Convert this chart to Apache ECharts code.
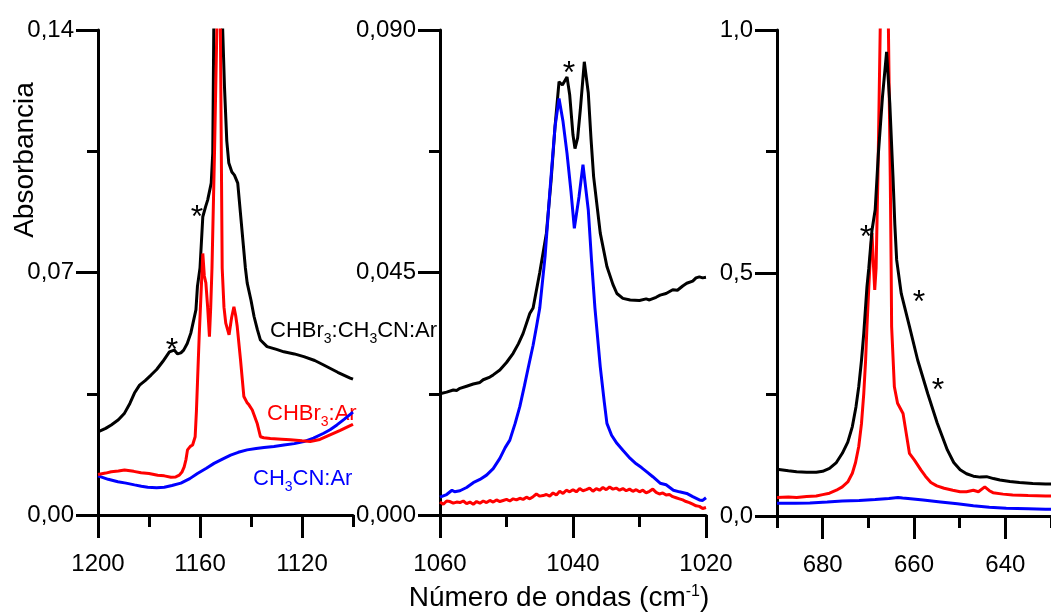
<!DOCTYPE html>
<html>
<head>
<meta charset="utf-8">
<script src="https://cdn.jsdelivr.net/npm/echarts@6/dist/echarts.min.js"></script>
<style>
  html, body { margin: 0; padding: 0; background: #fff; }
  #chart { width: 1051px; height: 613px; }
</style>
</head>
<body>
<div id="chart"></div>
<script>
// --- datos leídos del espectro ---
// panel 1 (1200-1100 cm-1)
const p1Black = [[1200,0.0240],[1199.3,0.0243],[1197,0.0250],[1194.8,0.0260],[1192,0.0275],[1189.6,0.0294],[1187.5,0.0322],[1185.7,0.0352],[1183.7,0.0375],[1181.5,0.0388],[1179.2,0.0404],[1177,0.0420],[1174.6,0.0443],[1172,0.0471],[1170.1,0.0476],[1168.8,0.0465],[1167.5,0.0468],[1166.4,0.0476],[1165,0.0495],[1163.6,0.0525],[1161.6,0.0592],[1161,0.0660],[1160,0.0713],[1159.5,0.0780],[1158.9,0.0861],[1157.8,0.0890],[1157,0.0909],[1155.6,0.0958],[1155,0.1045],[1154.6,0.14],[1153,0.2],[1151.1,0.14],[1150.4,0.1236],[1149.5,0.1080],[1148.7,0.1016],[1147.5,0.0990],[1146.5,0.0981],[1145.2,0.0958],[1143.9,0.0852],[1142.2,0.0713],[1141.5,0.0670],[1140,0.0620],[1138.8,0.0573],[1137.5,0.0535],[1136.3,0.0505],[1133.7,0.0486],[1130,0.0478],[1127.1,0.0471],[1123,0.0465],[1119.3,0.0457],[1115,0.0446],[1111.5,0.0433],[1106,0.0412],[1101.1,0.0395],[1100,0.0392]];
const p1Red = [[1200,0.0117],[1199.3,0.0118],[1197,0.0121],[1194.8,0.0125],[1192,0.0127],[1189.6,0.0130],[1186,0.0126],[1183.1,0.0122],[1180,0.0120],[1176.6,0.0115],[1174,0.0113],[1171.4,0.0109],[1169.5,0.0110],[1168.1,0.0115],[1167,0.0125],[1166.2,0.0139],[1165.5,0.0160],[1164.9,0.0188],[1163.8,0.0198],[1162.9,0.0202],[1161.9,0.0226],[1161.4,0.0300],[1161,0.0380],[1160.3,0.0520],[1159.7,0.0621],[1158.9,0.0755],[1158.3,0.0690],[1157.7,0.0670],[1157,0.0600],[1156.3,0.0515],[1155.8,0.0600],[1155.3,0.0713],[1154.3,0.105],[1153.4,0.14],[1152.7,0.25],[1152,0.14],[1151.3,0.0713],[1150.6,0.0600],[1149.9,0.0554],[1148.6,0.0520],[1147.6,0.0570],[1146.7,0.0601],[1146,0.0575],[1145.4,0.0544],[1144.1,0.0447],[1142.8,0.0342],[1141.6,0.0325],[1140.8,0.0318],[1140.2,0.0320],[1139.5,0.0303],[1137.6,0.0265],[1136.3,0.0226],[1135,0.0223],[1132.4,0.0221],[1128,0.0219],[1124.6,0.0217],[1120,0.0214],[1116.8,0.0212],[1113,0.0218],[1109,0.0231],[1105,0.0244],[1100.5,0.0260],[1100,0.0262]];
const p1Blue = [[1200,0.0113],[1199.3,0.0111],[1196,0.0103],[1192.2,0.0096],[1189,0.0092],[1185.7,0.0087],[1183,0.0083],[1180.5,0.0080],[1177,0.0079],[1174,0.0080],[1171,0.0085],[1167.5,0.0092],[1164,0.0105],[1161,0.0120],[1157.5,0.0135],[1154.5,0.0149],[1151,0.0162],[1148,0.0173],[1145,0.0181],[1141.5,0.0188],[1138,0.0192],[1134.9,0.0195],[1131,0.0198],[1127.1,0.0202],[1123,0.0206],[1119.3,0.0212],[1115.5,0.0222],[1111.5,0.0236],[1109,0.0246],[1106.3,0.0260],[1103.5,0.0276],[1100.5,0.0294],[1100,0.0297]];

// panel 2 (1060-1020 cm-1)
const p2Black = [[1060,0.0225],[1059.7,0.0226],[1059,0.0228],[1058,0.0232],[1057.5,0.0231],[1057,0.0235],[1056,0.0239],[1055,0.0243],[1054,0.0246],[1053.5,0.0251],[1052.5,0.0256],[1052,0.0260],[1051,0.0269],[1050,0.0283],[1049,0.0300],[1048.2,0.0318],[1047.5,0.0337],[1046.5,0.0374],[1046,0.0384],[1045,0.0450],[1044,0.0523],[1043.3,0.0620],[1042.7,0.0721],[1042.1,0.0804],[1041.6,0.0798],[1040.9,0.0813],[1040.5,0.0780],[1040,0.0705],[1039.7,0.0680],[1039.3,0.0700],[1038.9,0.0752],[1038.3,0.0841],[1037.7,0.0783],[1037.3,0.0700],[1036.9,0.0628],[1035.9,0.0523],[1034.9,0.0461],[1034,0.0428],[1033.4,0.0411],[1032.5,0.0402],[1031.4,0.0399],[1030,0.0398],[1029,0.0401],[1028.5,0.0399],[1027.5,0.0404],[1026.9,0.0408],[1026,0.0411],[1025,0.0418],[1024.3,0.0417],[1023.5,0.0425],[1022.9,0.0430],[1022,0.0434],[1021.5,0.0440],[1021,0.0442],[1020.5,0.0440],[1020,0.0441]];
const p2Red = [[1060,0.0024],[1059.5,0.0020],[1059,0.0026],[1058.5,0.0025],[1058,0.0022],[1057.5,0.0024],[1057,0.0023],[1056.5,0.0026],[1056,0.0021],[1055.5,0.0024],[1055,0.0020],[1054.5,0.0025],[1054,0.0022],[1053.5,0.0026],[1053,0.0023],[1052.5,0.0027],[1052,0.0024],[1051.5,0.0028],[1051,0.0025],[1050.5,0.0027],[1050,0.0029],[1049.5,0.0026],[1049,0.0030],[1048.5,0.0028],[1048,0.0031],[1047.5,0.0029],[1047,0.0033],[1046.5,0.0030],[1046,0.0034],[1045.5,0.0039],[1045,0.0035],[1044.5,0.0036],[1044,0.0038],[1043.5,0.0035],[1043,0.0041],[1042.5,0.0037],[1042,0.0044],[1041.5,0.0040],[1041,0.0046],[1040.5,0.0043],[1040,0.0047],[1039.5,0.0043],[1039,0.0049],[1038.5,0.0045],[1038,0.0047],[1037.5,0.0050],[1037,0.0044],[1036.5,0.0049],[1036,0.0046],[1035.5,0.0051],[1035,0.0047],[1034.5,0.0052],[1034,0.0048],[1033.5,0.0050],[1033,0.0046],[1032.5,0.0049],[1032,0.0045],[1031.5,0.0048],[1031,0.0044],[1030.5,0.0047],[1030,0.0043],[1029.5,0.0046],[1029,0.0041],[1028.5,0.0044],[1028,0.0048],[1027.5,0.0042],[1027,0.0039],[1026.5,0.0041],[1026,0.0037],[1025.5,0.0038],[1025,0.0034],[1024.5,0.0032],[1024,0.0030],[1023.5,0.0028],[1023,0.0025],[1022.5,0.0023],[1022,0.0020],[1021.5,0.0017],[1021,0.0016],[1020.5,0.0012],[1020,0.0014]];
const p2Blue = [[1060,0.0033],[1059.7,0.0034],[1059,0.0038],[1058.2,0.0046],[1057.8,0.0043],[1057.5,0.0041],[1057,0.0045],[1056,0.0051],[1055,0.0060],[1054,0.0066],[1053,0.0074],[1052,0.0086],[1051,0.0105],[1050.2,0.0125],[1049.5,0.0139],[1048.7,0.0170],[1048,0.0201],[1047.3,0.0240],[1046.7,0.0275],[1046,0.0315],[1045.5,0.0349],[1045,0.0384],[1044.2,0.0480],[1043.5,0.0597],[1042.7,0.0721],[1042.1,0.0773],[1041.5,0.0730],[1040.9,0.0671],[1040.3,0.0600],[1039.8,0.0532],[1039.1,0.0590],[1038.5,0.0650],[1037.7,0.0566],[1037.2,0.0470],[1036.7,0.0384],[1035.9,0.0275],[1035.3,0.0210],[1034.9,0.0170],[1034.2,0.0148],[1033.4,0.0133],[1032.5,0.0120],[1031.4,0.0105],[1030.5,0.0095],[1029.7,0.0088],[1028.9,0.0080],[1028,0.0071],[1026.9,0.0059],[1026,0.0056],[1024.9,0.0046],[1024,0.0043],[1022.9,0.0040],[1022,0.0034],[1021,0.0028],[1020.5,0.0027],[1020,0.0032]];

// panel 3 (690-630 cm-1)
const p3Black = [[690,0.096],[689.6,0.096],[687.5,0.093],[685.7,0.091],[683.5,0.090],[681.4,0.090],[680,0.092],[678.5,0.098],[677,0.110],[675.7,0.129],[674.5,0.152],[673.5,0.184],[672.7,0.225],[672.1,0.266],[671.5,0.320],[671,0.376],[670.3,0.472],[669.9,0.510],[669.2,0.588],[668.5,0.630],[667.8,0.746],[666.9,0.863],[666,0.955],[665.3,0.849],[664.6,0.698],[664.2,0.600],[663.8,0.527],[662.8,0.458],[661,0.390],[659.2,0.321],[657,0.252],[654.9,0.191],[652.7,0.136],[651.3,0.110],[649.9,0.095],[648.5,0.087],[647,0.082],[645.5,0.080],[644.1,0.081],[642.6,0.077],[641.2,0.074],[639,0.071],[636.9,0.069],[634,0.067],[631.2,0.066],[630,0.066]];
const p3Red = [[690,0.038],[689.6,0.038],[687.5,0.039],[685.7,0.038],[683.5,0.040],[681.4,0.041],[680,0.044],[678.5,0.047],[677,0.053],[675.7,0.060],[674.5,0.070],[673.5,0.088],[672.8,0.110],[672.1,0.143],[671.5,0.190],[671,0.252],[670.6,0.320],[670.3,0.390],[669.9,0.470],[669.6,0.527],[669.2,0.582],[668.9,0.520],[668.6,0.465],[668.3,0.510],[667.9,0.700],[667.4,1.0],[666.5,1.6],[665.6,1.0],[665.2,0.700],[665.0,0.510],[664.9,0.390],[664.3,0.266],[663.6,0.232],[662.4,0.211],[661.7,0.170],[661,0.129],[659.9,0.115],[658.5,0.095],[657.5,0.082],[656.3,0.069],[655,0.062],[653.4,0.057],[651.5,0.053],[649.9,0.050],[648.5,0.050],[647,0.053],[645.9,0.050],[644.5,0.060],[643.5,0.052],[642.7,0.048],[640.5,0.045],[638.4,0.043],[635,0.042],[631.2,0.041],[630,0.041]];
const p3Blue = [[690,0.026],[689.6,0.026],[686,0.026],[682.8,0.027],[679,0.029],[675.7,0.031],[672,0.032],[668.5,0.034],[665.5,0.036],[663.5,0.038],[662.5,0.037],[661.3,0.036],[658,0.033],[654.2,0.029],[650.5,0.025],[647,0.021],[643.5,0.018],[639.8,0.016],[635,0.015],[631.2,0.014],[630,0.014]];

// ticks
const p1XTicks = [1200, 1160, 1120], p1XMinor = [1180, 1140, 1100];
const p2XTicks = [1060, 1040, 1020], p2XMinor = [1050, 1030];
const p3XTicks = [680, 660, 640], p3XMinor = [690, 670, 650, 630];
const p1YTicks = [0, 0.07, 0.14], p1YMinor = [0.035, 0.105];
const p2YTicks = [0, 0.045, 0.09], p2YMinor = [0.0225, 0.0675];
const p3YTicks = [0, 0.5, 1.0], p3YMinor = [0.25, 0.75];

const FONT = 'Liberation Sans, Arial, sans-serif';
const AX = { color: '#000', width: 3 };

function xAxes(grid, min, max, major, minor) {
  return [
    { type: 'value', gridIndex: grid, min: min, max: max, inverse: true, position: 'bottom',
      axisLine: { show: true, onZero: false, lineStyle: AX },
      axisTick: { show: true, customValues: major, length: 23, lineStyle: AX },
      axisLabel: { show: true, customValues: major, margin: 37, color: '#000', fontSize: 24, fontFamily: FONT,
        formatter: v => String(v) },
      splitLine: { show: false } },
    { type: 'value', gridIndex: grid, min: min, max: max, inverse: true, position: 'bottom',
      axisLine: { show: false, onZero: false },
      axisTick: { show: true, customValues: minor, length: 12, lineStyle: AX },
      axisLabel: { show: false, customValues: minor },
      splitLine: { show: false } }
  ];
}
function yAxes(grid, max, major, minor, digits) {
  return [
    { type: 'value', gridIndex: grid, min: 0, max: max, position: 'left',
      axisLine: { show: true, onZero: false, lineStyle: AX },
      axisTick: { show: true, customValues: major, length: 22, lineStyle: AX },
      axisLabel: { show: true, customValues: major, margin: 24, color: '#000', fontSize: 24, fontFamily: FONT,
        padding: [0, 0, 8, 0],
        formatter: v => v.toFixed(digits).replace('.', ',') },
      splitLine: { show: false } },
    { type: 'value', gridIndex: grid, min: 0, max: max, position: 'left',
      axisLine: { show: false, onZero: false },
      axisTick: { show: true, customValues: minor, length: 11, lineStyle: AX },
      axisLabel: { show: false, customValues: minor },
      splitLine: { show: false } }
  ];
}
function line(data, color, idx) {
  return { type: 'line', data: data, xAxisIndex: idx, yAxisIndex: idx, showSymbol: false,
    clip: true, silent: true, lineStyle: { color: color, width: 3 } };
}
function star(x, y) {
  return { type: 'text', x: x, y: y + 7,
    style: { text: '*', fill: '#000', font: '32px ' + FONT, align: 'center', verticalAlign: 'middle' } };
}
const sub = { fontSize: 14, fontFamily: FONT, verticalAlign: 'bottom', lineHeight: 14 };
function label(text, x, y, color) {
  return { type: 'text', x: x, y: y,
    style: { text: text, fill: color, font: '22px ' + FONT, align: 'left', verticalAlign: 'middle',
      lineHeight: 30,
      rich: { s: Object.assign({ fill: color }, sub), t: { fill: color, fontSize: 22, fontFamily: FONT, lineHeight: 30 } } } };
}

const chart = echarts.init(document.getElementById('chart'));
chart.setOption({
  animation: false,
  backgroundColor: '#fff',
  grid: [
    { left: 98, right: 698, top: 30, bottom: 98 },
    { left: 440, right: 345, top: 30, bottom: 98 },
    { left: 777, right: -5, top: 30, bottom: 97 }
  ],
  xAxis: [].concat(
    xAxes(0, 1100, 1200, p1XTicks, p1XMinor),
    xAxes(1, 1020, 1060, p2XTicks, p2XMinor),
    xAxes(2, 630, 690, p3XTicks, p3XMinor)),
  yAxis: [].concat(
    yAxes(0, 0.14, p1YTicks, p1YMinor, 2),
    yAxes(1, 0.09, p2YTicks, p2YMinor, 3),
    yAxes(2, 1.0, p3YTicks, p3YMinor, 1)),
  series: [
    line(p1Black, '#000', 0), line(p1Blue, '#0000ff', 0), line(p1Red, '#ff0000', 0),
    line(p2Black, '#000', 2), line(p2Red, '#ff0000', 2), line(p2Blue, '#0000ff', 2),
    line(p3Blue, '#0000ff', 4), line(p3Red, '#ff0000', 4), line(p3Black, '#000', 4)
  ],
  graphic: [
    { type: 'text', x: 25, y: 160, rotation: Math.PI / 2,
      style: { text: 'Absorbancia', fill: '#000', font: '28px ' + FONT, align: 'center', verticalAlign: 'middle' } },
    { type: 'text', x: 559, y: 598,
      style: { text: 'Número de ondas (cm{sup|-1})', fill: '#000', font: '28px ' + FONT, align: 'center', verticalAlign: 'middle',
        rich: { sup: { fontSize: 16, fontFamily: FONT, verticalAlign: 'top', lineHeight: 16 } } } },
    label('{t|CHBr}{s|3}{t|:CH}{s|3}{t|CN:Ar}', 270, 331, '#000'),
    label('{t|CHBr}{s|3}{t|:Ar}', 267, 414, '#ff0000'),
    label('{t|CH}{s|3}{t|CN:Ar}', 253, 479, '#0000ff'),
    star(172, 344), star(197, 211), star(569, 67),
    star(866, 231), star(919, 296), star(938, 384)
  ]
});
</script>
</body>
</html>
